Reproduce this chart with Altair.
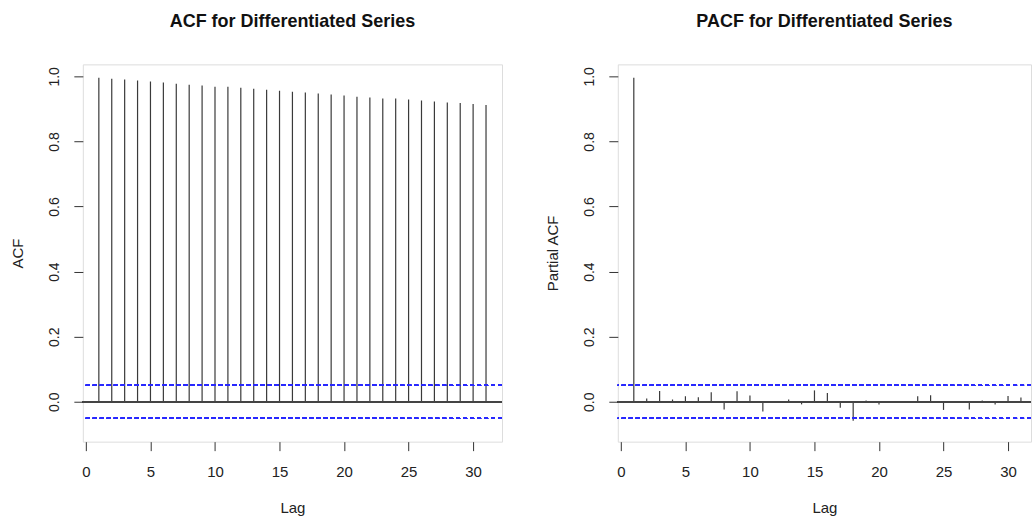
import altair as alt
import pandas as pd

lags = list(range(1, 32))
acf_vals = [0.996, 0.993, 0.990, 0.987, 0.984, 0.981, 0.977, 0.974, 0.972, 0.968,
            0.968, 0.965, 0.962, 0.959, 0.956, 0.953, 0.950, 0.947, 0.944, 0.941,
            0.937, 0.935, 0.932, 0.932, 0.929, 0.926, 0.923, 0.920, 0.918, 0.915, 0.912]
pacf_vals = [0.996, 0.010, 0.033, 0.007, 0.017, 0.014, 0.029, -0.024, 0.032, 0.019,
             -0.030, 0.000, 0.007, -0.008, 0.035, 0.027, -0.018, -0.058, 0.004, -0.008,
             -0.002, -0.003, 0.017, 0.020, -0.025, 0.000, -0.024, 0.004, -0.008, 0.018, 0.013]
conf = 0.0506
x_ticks = [0, 5, 10, 15, 20, 25, 30]
y_ticks = [0.0, 0.2, 0.4, 0.6, 0.8, 1.0]
titles = ["ACF for Differentiated Series", "PACF for Differentiated Series"]
y_titles = ["ACF", "Partial ACF"]

FONT = "Liberation Sans"
H = 378


def panel(vals, title, ytitle, width, xmax):
    df = pd.DataFrame({"lag": lags, "value": vals, "base": [0.0] * len(lags)})
    x = alt.X("lag:Q",
              scale=alt.Scale(domain=[-0.24, xmax], nice=False, zero=False),
              axis=alt.Axis(values=x_ticks, title="Lag", grid=False, domain=False,
                            tickSize=9, tickColor="#333", labelFontSize=15,
                            labelFont=FONT, labelColor="#222", labelPadding=14,
                            labelBaseline="top", titleFont=FONT, titleFontSize=15,
                            titleFontWeight="normal", titleColor="#222",
                            titleX=width / 2, titleY=71, titleBaseline="alphabetic",
                            titleAlign="center"))
    y = alt.Y("value:Q",
              scale=alt.Scale(domain=[-0.1225, 1.0368], nice=False, zero=False),
              axis=alt.Axis(values=y_ticks, format=".1f", title=ytitle, grid=False,
                            domain=False, tickSize=9, tickColor="#333",
                            labelFontSize=14, labelFont=FONT, labelColor="#222",
                            labelAngle=270, labelAlign="center", labelBaseline="middle",
                            labelPadding=19, titleFont=FONT, titleFontSize=15,
                            titleFontWeight="normal", titleColor="#222",
                            titleAngle=270, titleX=-65, titleY=H / 2,
                            titleBaseline="middle", titleAlign="center"))
    bars = alt.Chart(df).mark_rule(color="#3a3a3a", strokeWidth=1.2).encode(
        x=x, y=y, y2="base")
    zero = alt.Chart(df).mark_rule(color="#444", strokeWidth=1.1).encode(y=alt.datum(0))
    up = alt.Chart(df).mark_rule(color="#2a2aff", strokeWidth=1.1,
                                 strokeDash=[4, 3]).encode(y=alt.datum(conf))
    lo = alt.Chart(df).mark_rule(color="#2a2aff", strokeWidth=1.1,
                                 strokeDash=[4, 3]).encode(y=alt.datum(-conf))
    return alt.layer(bars, zero, up, lo).properties(
        width=width, height=H,
        title=alt.TitleParams(title, font=FONT, fontSize=18, fontWeight="bold",
                              color="#111", anchor="middle", frame="group", offset=33))


acf = panel(acf_vals, titles[0], y_titles[0], 420, 32.24)
pacf = panel(pacf_vals, titles[1], y_titles[1], 414, 31.78)

chart = alt.hconcat(acf, pacf, spacing=116, bounds="flush").properties(
    padding={"left": 10, "top": 12, "right": 0, "bottom": 0}
).configure_view(stroke="#333", strokeWidth=1.1).configure(background="white")

chart.save("out.html", embed_options={"renderer": "svg", "actions": False})
